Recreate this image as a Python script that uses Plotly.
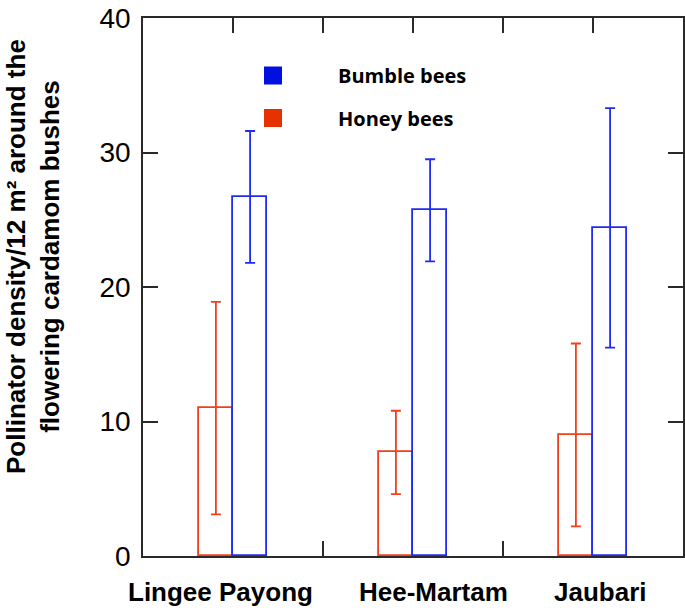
import plotly.graph_objects as go

categories = ["Lingee Payong", "Hee-Martam", "Jaubari"]
honey = [11.0, 7.7, 9.0]
honey_err = [7.9, 3.1, 6.8]
bumble = [26.7, 25.7, 24.4]
bumble_err = [4.9, 3.8, 8.9]
series_names = ["Bumble bees", "Honey bees"]
label_shift = [-13, 20, 7]

RED = "#f0401c"
BLUE = "#1f2cf5"
LEG_RED = "#e63200"
LEG_BLUE = "#0010e0"
AX = "#2a2a2a"

OFF = 0  # body margin removed via post_script
W, H = 685 - OFF, 614 - OFF
ML, MT = 143 - OFF, 18 - OFF
PW, PH = 540, 538
MR = W - ML - PW
MB = H - MT - PH


def px(xp):
    return (xp - OFF - ML) / PW


def py(yp):
    return (MT + PH - (yp - OFF)) / PH


xs = list(range(len(categories)))

fig = go.Figure()
fig.add_bar(
    x=xs, y=honey, width=0.19, offset=-0.19, name=series_names[1],
    marker=dict(color="white", line=dict(color=RED, width=1.8)),
    error_y=dict(type="data", array=honey_err, color=RED, thickness=1.8, width=5),
    showlegend=False,
)
fig.add_bar(
    x=xs, y=bumble, width=0.19, offset=0.0, name=series_names[0],
    marker=dict(color="white", line=dict(color=BLUE, width=1.8)),
    error_y=dict(type="data", array=bumble_err, color=BLUE, thickness=1.8, width=5),
    showlegend=False,
)

axis_common = dict(
    showline=True, linecolor=AX, linewidth=1.5, mirror="ticks",
    ticks="inside", ticklen=15, tickwidth=1.5, tickcolor=AX,
    showgrid=False, zeroline=False, layer="below traces", automargin=False,
)

fig.update_xaxes(
    range=[-0.5, len(categories) - 0.5],
    tickvals=[i * 0.5 for i in range(2 * len(categories) - 1)],
    showticklabels=False,
    **axis_common,
)
fig.update_yaxes(
    range=[0, 40], tickvals=[0, 10, 20, 30, 40],
    tickfont=dict(family="Liberation Sans, Arial", size=28, color="black"),
    ticklabelstandoff=5, ticklabeloverflow="allow",
    **axis_common,
)

annotations = []
for i, c in enumerate(categories):
    annotations.append(dict(
        x=i, xref="x", y=py(592), yref="paper", text=c, showarrow=False,
        xanchor="center", yanchor="middle", xshift=label_shift[i],
        font=dict(family="Liberation Sans, Arial", size=26, color="black", weight="bold"),
    ))

annotations.append(dict(
    x=px(33), y=py(257), xref="paper", yref="paper",
    text="Pollinator density/12 m\u00b2 around the<br>flowering cardamom bushes",
    textangle=-90, showarrow=False, xanchor="center", yanchor="middle",
    font=dict(family="Liberation Sans, Arial", size=26, color="black", weight="bold"),
))

shapes = []
leg_colors = [LEG_BLUE, LEG_RED]
leg_y = [75.5, 118]
for name, col, yc in zip(series_names, leg_colors, leg_y):
    shapes.append(dict(
        type="rect", xref="paper", yref="paper",
        x0=px(264), x1=px(282), y0=py(yc - 9), y1=py(yc + 9),
        fillcolor=col, line=dict(width=0),
    ))
    annotations.append(dict(
        x=px(336), y=py(yc), xref="paper", yref="paper", text=name,
        showarrow=False, xanchor="left", yanchor="middle",
        font=dict(family="Open Sans", size=20, color="black", weight="bold"),
    ))

fig.update_layout(
    width=W, height=H,
    margin=dict(l=ML, r=MR, t=MT, b=MB, pad=0),
    plot_bgcolor="white", paper_bgcolor="white",
    annotations=annotations, shapes=shapes,
    showlegend=False, bargap=0,
)

fig.write_html(
    "out.html",
    config={"displayModeBar": False},
    post_script="document.body.style.margin='0';document.body.style.overflow='hidden';",
)
